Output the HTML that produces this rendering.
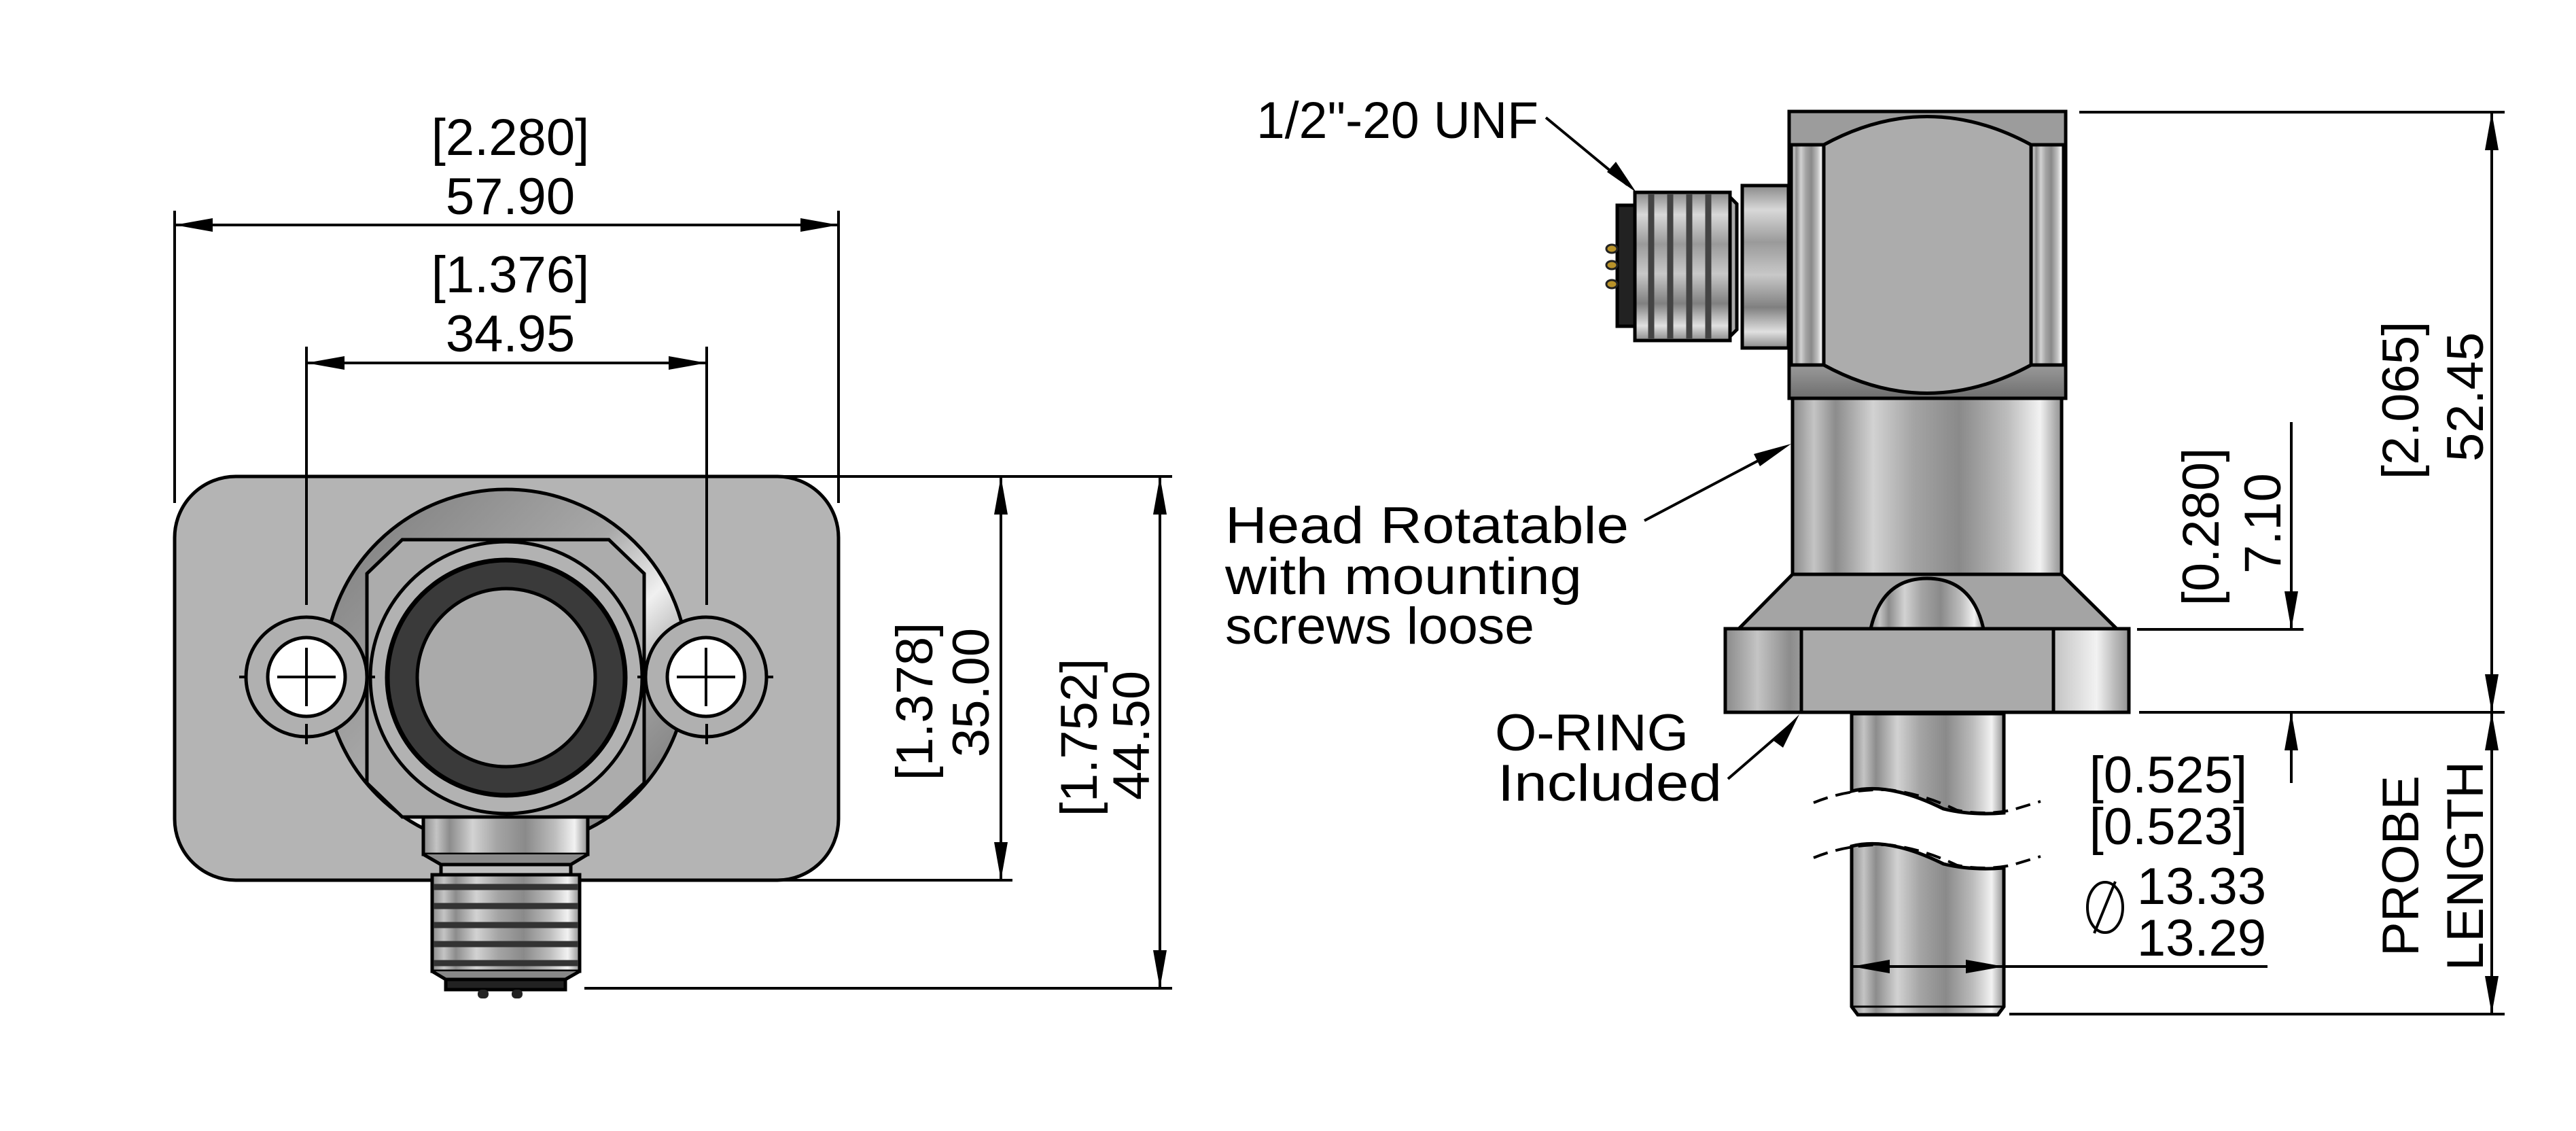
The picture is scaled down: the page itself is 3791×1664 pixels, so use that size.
<!DOCTYPE html>
<html><head><meta charset="utf-8"><style>html,body{margin:0;padding:0;background:#fff}svg{display:block}</style></head>
<body>
<svg xmlns="http://www.w3.org/2000/svg" width="3791" height="1664" viewBox="0 0 3791 1664">
<defs>
<linearGradient id="cyl" x1="0" x2="1" y1="0" y2="0">
<stop offset="0" stop-color="#8a8a8a"/><stop offset=".08" stop-color="#c4c4c4"/><stop offset=".16" stop-color="#8c8c8c"/><stop offset=".3" stop-color="#d2d2d2"/><stop offset=".45" stop-color="#a4a4a4"/><stop offset=".62" stop-color="#8a8a8a"/><stop offset=".8" stop-color="#bdbdbd"/><stop offset=".92" stop-color="#f2f2f2"/><stop offset="1" stop-color="#909090"/>
</linearGradient>
<linearGradient id="cylv" x1="0" x2="0" y1="0" y2="1">
<stop offset="0" stop-color="#8a8a8a"/><stop offset=".15" stop-color="#d8d8d8"/><stop offset=".35" stop-color="#9a9a9a"/><stop offset=".55" stop-color="#c8c8c8"/><stop offset=".75" stop-color="#808080"/><stop offset=".9" stop-color="#e0e0e0"/><stop offset="1" stop-color="#8a8a8a"/>
</linearGradient>
<linearGradient id="boss" x1="0" x2="1" y1="0" y2="1">
<stop offset="0" stop-color="#7a7a7a"/><stop offset=".45" stop-color="#a8a8a8"/><stop offset=".6" stop-color="#f0f0f0"/><stop offset=".75" stop-color="#9a9a9a"/><stop offset="1" stop-color="#6a6a6a"/>
</linearGradient>
<linearGradient id="dark" x1="0" x2="0" y1="0" y2="1"><stop offset="0" stop-color="#9a9a9a"/><stop offset="1" stop-color="#6e6e6e"/></linearGradient>
</defs>

<g stroke="#000" stroke-width="5" fill="none">
<!-- LEFT VIEW -->
<rect x="257" y="701" width="977" height="594" rx="90" fill="#b4b4b4"/>
<ellipse cx="745" cy="984" rx="267" ry="264" fill="url(#boss)"/>
<ellipse cx="451" cy="996" rx="89" ry="88" fill="#b0b0b0"/>
<ellipse cx="1039" cy="996" rx="89" ry="88" fill="#b0b0b0"/>
<ellipse cx="451" cy="996" rx="57" ry="58" fill="#fff"/>
<ellipse cx="1039" cy="996" rx="57" ry="58" fill="#fff"/>
<path d="M592 794 H896 L948 844 V1152 L896 1202 H592 L540 1152 V844 Z" fill="#acacac"/>
<ellipse cx="745" cy="997" rx="200" ry="200" fill="#b2b2b2"/>
<ellipse cx="745" cy="997" rx="175" ry="173" fill="#3a3a3a" stroke-width="7"/>
<ellipse cx="745" cy="997" rx="131" ry="131" fill="#aaaaaa"/>
<rect x="623" y="1202" width="242" height="55" fill="url(#cyl)"/>
<path d="M623 1257 L649 1272 H840 L865 1257" fill="#8a8a8a"/>
<rect x="649" y="1272" width="191" height="15" fill="#c0c0c0"/>
<rect x="636" y="1287" width="217" height="142" fill="url(#cyl)"/>
<g stroke="#333" stroke-width="9"><line x1="638" y1="1305" x2="851" y2="1305"/><line x1="638" y1="1333" x2="851" y2="1333"/><line x1="638" y1="1361" x2="851" y2="1361"/><line x1="638" y1="1389" x2="851" y2="1389"/><line x1="638" y1="1417" x2="851" y2="1417"/></g>
<path d="M636 1429 L656 1441 H832 L853 1429" fill="#888"/>
<rect x="656" y="1441" width="176" height="15" fill="#222"/>
<g fill="#222" stroke="none"><rect x="703" y="1456" width="16" height="13" rx="6"/><rect x="753" y="1456" width="16" height="13" rx="6"/></g>
<!-- crosses & center lines -->
<g stroke-width="4">
<line x1="408" y1="996" x2="494" y2="996"/><line x1="451" y1="953" x2="451" y2="1039"/>
<line x1="996" y1="996" x2="1082" y2="996"/><line x1="1039" y1="953" x2="1039" y2="1039"/>
<line x1="451" y1="510" x2="451" y2="890"/><line x1="451" y1="1065" x2="451" y2="1095"/>
<line x1="1040" y1="510" x2="1040" y2="890"/><line x1="1040" y1="1065" x2="1040" y2="1095"/>
<line x1="352" y1="996" x2="362" y2="996"/><line x1="540" y1="996" x2="552" y2="996"/>
<line x1="938" y1="996" x2="950" y2="996"/><line x1="1128" y1="996" x2="1138" y2="996"/>
<!-- dims left -->
<line x1="257" y1="310" x2="257" y2="740"/><line x1="1234" y1="310" x2="1234" y2="740"/>
<line x1="257" y1="331" x2="1234" y2="331"/>
<line x1="451" y1="534" x2="1040" y2="534"/>
<line x1="1150" y1="701" x2="1725" y2="701"/>
<line x1="1150" y1="1295" x2="1490" y2="1295"/>
<line x1="860" y1="1454" x2="1725" y2="1454"/>
<line x1="1473" y1="701" x2="1473" y2="1295"/>
<line x1="1707" y1="701" x2="1707" y2="1454"/>
</g>
</g>
<g fill="#000">
<path d="M257 331 l56 -10 v20 z"/><path d="M1234 331 l-56 -10 v20 z"/>
<path d="M451 534 l56 -10 v20 z"/><path d="M1040 534 l-56 -10 v20 z"/>
<path d="M1473 701 l-10 56 h20 z"/><path d="M1473 1295 l-10 -56 h20 z"/>
<path d="M1707 701 l-10 56 h20 z"/><path d="M1707 1454 l-10 -56 h20 z"/>
</g>

<g stroke="#000" stroke-width="5" fill="none">
<!-- RIGHT VIEW -->
<!-- connector -->
<rect x="2564" y="273" width="68" height="239" fill="url(#cylv)"/>
<path d="M2546 290 L2556 300 V485 L2546 495 Z" fill="#aaa"/>
<rect x="2406" y="283" width="140" height="218" fill="url(#cylv)"/>
<g stroke="#444" stroke-width="9"><line x1="2430" y1="286" x2="2430" y2="498"/><line x1="2458" y1="286" x2="2458" y2="498"/><line x1="2486" y1="286" x2="2486" y2="498"/><line x1="2514" y1="286" x2="2514" y2="498"/></g>
<rect x="2380" y="302" width="26" height="178" fill="#222"/>
<g fill="#b8922a" stroke="#222" stroke-width="3"><ellipse cx="2372" cy="366" rx="8" ry="6"/><ellipse cx="2372" cy="390" rx="8" ry="6"/><ellipse cx="2372" cy="418" rx="8" ry="6"/></g>
<!-- head -->
<rect x="2633" y="164" width="407" height="422" fill="#9c9c9c"/>
<rect x="2636" y="213" width="48" height="324" fill="url(#cyl)"/>
<rect x="2989" y="213" width="48" height="324" fill="url(#cyl)"/>
<rect x="2636" y="537" width="401" height="49" fill="url(#dark)" stroke="none"/>
<path d="M2684 213 Q2836 130 2989 213 V537 Q2836 620 2684 537 Z" fill="#acacac"/>
<line x1="2633" y1="213" x2="2684" y2="213"/><line x1="2989" y1="213" x2="3040" y2="213"/>
<line x1="2633" y1="537" x2="2684" y2="537"/><line x1="2989" y1="537" x2="3040" y2="537"/>
<rect x="2633" y="164" width="407" height="422"/>
<!-- shaft -->
<rect x="2638" y="586" width="396" height="259" fill="url(#cyl)"/>
<path d="M2638 845 H3034 L3115 925 H2559 Z" fill="#a4a4a4"/>
<path d="M2753 925 Q2770 851 2836 851 Q2902 851 2919 925 Z" fill="url(#cyl)"/>
<rect x="2539" y="925" width="594" height="123" fill="url(#cyl)"/>
<rect x="2651" y="925" width="371" height="123" fill="#aaaaaa"/>
<!-- probe -->
<path d="M2725 1050 H2949 V1196 Q2900 1200 2860 1190 Q2780 1150 2725 1164 Z" fill="url(#cyl)"/>
<path d="M2725 1245 Q2780 1231 2860 1271 Q2900 1281 2949 1277 V1481 L2940 1493 H2734 L2725 1481 Z" fill="url(#cyl)"/>
<line x1="2725" y1="1481" x2="2949" y2="1481" stroke-width="3"/>
<g stroke-dasharray="22 12" stroke-width="4">
<path d="M2669 1181 Q2720 1160 2780 1162 Q2830 1168 2880 1192 Q2920 1200 2960 1192 Q2980 1186 3003 1179"/>
<path d="M2669 1262 Q2720 1241 2780 1243 Q2830 1249 2880 1273 Q2920 1281 2960 1273 Q2980 1267 3003 1260"/>
</g>
<!-- dims right -->
<g stroke-width="4">
<line x1="3060" y1="165" x2="3686" y2="165"/>
<line x1="3145" y1="926" x2="3390" y2="926"/>
<line x1="3148" y1="1048" x2="3686" y2="1048"/>
<line x1="2957" y1="1492" x2="3686" y2="1492"/>
<line x1="3667" y1="165" x2="3667" y2="1492"/>
<line x1="3372" y1="621" x2="3372" y2="926"/>
<line x1="3372" y1="1048" x2="3372" y2="1152"/>
<line x1="2725" y1="1422" x2="3337" y2="1422"/>
<line x1="2275" y1="173" x2="2395" y2="272"/>
<line x1="2420" y1="766" x2="2625" y2="658"/>
<line x1="2543" y1="1146" x2="2640" y2="1062"/>
</g>
</g>
<g fill="#000">
<path d="M3667 165 l-10 56 h20 z"/><path d="M3667 1048 l-10 -56 h20 z"/>
<path d="M3667 1048 l-10 56 h20 z"/><path d="M3667 1492 l-10 -56 h20 z"/>
<path d="M3372 926 l-10 -56 h20 z"/><path d="M3372 1048 l-10 56 h20 z"/>
<path d="M2725 1422 l56 -10 v20 z"/><path d="M2949 1422 l-56 -10 v20 z"/>
<path d="M2408 283 l-43 -30 l13 -15 z"/>
<path d="M2636 653 l-46 33 l-9 -18 z"/>
<path d="M2648 1051 l-24 49 l-15 -11 z"/>
</g>

<g font-family="Liberation Sans, DejaVu Sans, sans-serif" font-size="76" fill="#000">
<text x="751" y="228" text-anchor="middle">[2.280]</text>
<text x="751" y="315" text-anchor="middle">57.90</text>
<text x="751" y="430" text-anchor="middle">[1.376]</text>
<text x="751" y="517" text-anchor="middle">34.95</text>
<text x="1372" y="1032" text-anchor="middle" transform="rotate(-90 1372 1032)">[1.378]</text>
<text x="1455" y="1019" text-anchor="middle" transform="rotate(-90 1455 1019)">35.00</text>
<text x="1614" y="1085" text-anchor="middle" transform="rotate(-90 1614 1085)">[1.752]</text>
<text x="1691" y="1082" text-anchor="middle" transform="rotate(-90 1691 1082)">44.50</text>
<text x="1849" y="203" textLength="415" lengthAdjust="spacingAndGlyphs">1/2"-20 UNF</text>
<text x="1803" y="799" textLength="594" lengthAdjust="spacingAndGlyphs">Head Rotatable</text>
<text x="1803" y="874" textLength="525" lengthAdjust="spacingAndGlyphs">with mounting</text>
<text x="1803" y="947" textLength="455" lengthAdjust="spacingAndGlyphs">screws loose</text>
<text x="2200" y="1104" textLength="285" lengthAdjust="spacingAndGlyphs">O-RING</text>
<text x="2204" y="1178" textLength="330" lengthAdjust="spacingAndGlyphs">Included</text>
<text x="3191" y="1166" text-anchor="middle">[0.525]</text>
<text x="3191" y="1242" text-anchor="middle">[0.523]</text>
<text x="3240" y="1330" text-anchor="middle">13.33</text>
<text x="3240" y="1406" text-anchor="middle">13.29</text>
<text x="3559" y="589" text-anchor="middle" transform="rotate(-90 3559 589)">[2.065]</text>
<text x="3654" y="584" text-anchor="middle" transform="rotate(-90 3654 584)">52.45</text>
<text x="3265" y="775" text-anchor="middle" transform="rotate(-90 3265 775)">[0.280]</text>
<text x="3356" y="770" text-anchor="middle" transform="rotate(-90 3356 770)">7.10</text>
<text x="3559" y="1274" text-anchor="middle" transform="rotate(-90 3559 1274)">PROBE</text>
<text x="3654" y="1274" text-anchor="middle" transform="rotate(-90 3654 1274)">LENGTH</text>
</g>
<g stroke="#000" stroke-width="4" fill="none">
<ellipse cx="3098" cy="1335" rx="26" ry="37"/><line x1="3082" y1="1373" x2="3113" y2="1297"/>
</g>
</svg>
</body></html>
